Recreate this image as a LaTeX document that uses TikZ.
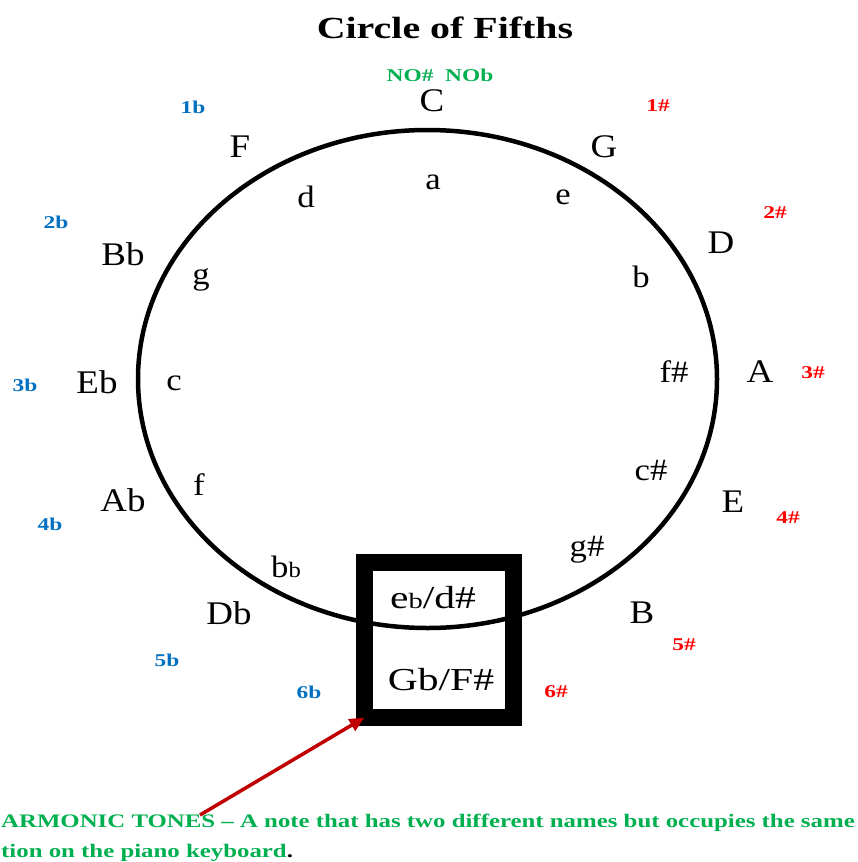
\documentclass[tikz,border=0pt]{standalone}
\usepackage{xcolor}
\usepackage{fontspec}
\setmainfont{Liberation Serif}[FakeStretch=1.12]
\newfontfamily\widefont{Liberation Serif}[FakeStretch=1.3, Ligatures=TeX]
\usepackage{tikz}
\usetikzlibrary{arrows.meta}
\definecolor{sharpred}{HTML}{FF0000}
\definecolor{flatblue}{HTML}{0070C0}
\definecolor{notegreen}{HTML}{00B050}
\definecolor{arrowred}{HTML}{C00000}
\newcommand{\smb}{{\fontsize{22}{22}\selectfont b}}

\begin{document}
\begin{tikzpicture}[x=1pt, y=-1pt,
    major/.style={font=\fontsize{33}{36}\selectfont, inner sep=0pt},
    minor/.style={font=\fontsize{31}{34}\selectfont, inner sep=0pt},
    sharps/.style={text=sharpred, font=\widefont\bfseries\fontsize{18}{20}\selectfont, inner sep=0pt},
    flats/.style={text=flatblue, font=\widefont\bfseries\fontsize{18}{20}\selectfont, inner sep=0pt}]
  \useasboundingbox (0,0) rectangle (858,862);
  \fill[white] (0,0) rectangle (858,862);

  % title
  \node[font=\widefont\bfseries\fontsize{30.7}{33}\selectfont] (title) at (445,28) {Circle of Fifths};
  \node[text=notegreen, font=\widefont\bfseries\fontsize{18}{20}\selectfont] (none) at (440,75) {NO\#\ \ NOb};

  % the circle
  \draw[line width=4.5pt] (427.5,379) ellipse [x radius=289.5pt, y radius=249pt];

  % major keys
  \node[major] (C) at (432,101) {C};
  \node[major] (G) at (604,147) {G};
  \node[major] (D) at (721,243) {D};
  \node[major] (A) at (760,372) {A};
  \node[major] (E) at (733,502) {E};
  \node[major] (B) at (642,613) {B};
  \node[major] (F) at (240,147) {F};
  \node[major] (Bb) at (123,254) {Bb};
  \node[major] (Eb) at (97,382) {Eb};
  \node[major] (Ab) at (123,500) {Ab};
  \node[major] (Db) at (229,613) {Db};

  % minor keys
  \node[minor] (am) at (433,182) {a};
  \node[minor] (em) at (563,197) {e};
  \node[minor] (bm) at (641,277) {b};
  \node[minor] (fsm) at (674,372) {f\#};
  \node[minor] (csm) at (651,470) {c\#};
  \node[minor] (gsm) at (587,550) {g\#};
  \node[minor] (dm) at (306,197) {d};
  \node[minor] (gm) at (201,280) {g};
  \node[minor] (cm) at (174,383) {c};
  \node[minor] (fm) at (199,485) {f};
  \node[minor] (bbm) at (286,567) {b\smb};

  % enharmonic box
  \node[draw, line width=17pt, outer sep=0pt, minimum width=149pt, minimum height=155pt] (enh) at (439,640) {};
  \node[minor, font=\widefont\fontsize{32}{34}\selectfont] (ebm) at (433,598) {e\smb/d\#};
  \node[major, font=\widefont\fontsize{32}{34}\selectfont] (Gb) at (441,680) {Gb/F\#};

  % number of sharps
  \node[sharps] (s1) at (658,106) {1\#};
  \node[sharps] (s2) at (775,213) {2\#};
  \node[sharps] (s3) at (813,373) {3\#};
  \node[sharps] (s4) at (788,518) {4\#};
  \node[sharps] (s5) at (684,645) {5\#};
  \node[sharps] (s6) at (556,692) {6\#};

  % number of flats
  \node[flats] (f1) at (193,107) {1b};
  \node[flats] (f2) at (56,222) {2b};
  \node[flats] (f3) at (25,385) {3b};
  \node[flats] (f4) at (50,524) {4b};
  \node[flats] (f5) at (167,660) {5b};
  \node[flats] (f6) at (309,692) {6b};

  % note at the bottom
  \node[anchor=base west, inner sep=0pt, text=notegreen, font=\widefont\bfseries\fontsize{19.1}{30}\selectfont] (tones) at (1,827) {ARMONIC TONES \textendash\ A note that has two different names but occupies the same};
  \node[anchor=base west, inner sep=0pt, text=notegreen, font=\widefont\bfseries\fontsize{19.1}{30}\selectfont] (tones2) at (1,857) {tion on the piano keyboard\textcolor{black}{.}};
  \coordinate (from) at (200,815);
  \draw[arrowred, line width=3.5pt, -{Triangle[length=15pt, width=13pt]}] (from) -- (enh.south west);
\end{tikzpicture}
\end{document}
